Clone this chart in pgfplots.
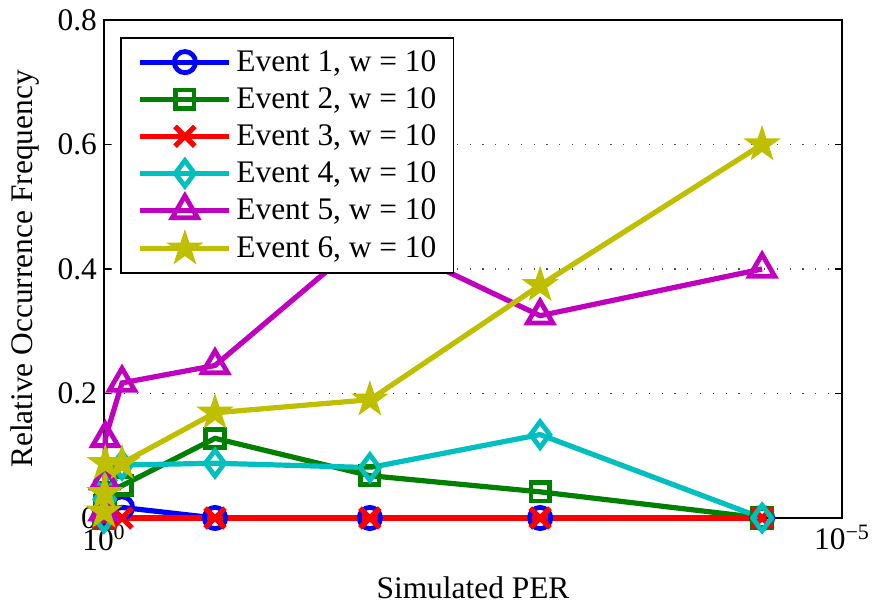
\documentclass[border=0pt]{standalone}
\usepackage{fontspec}
\setmainfont{Liberation Serif}
\usepackage{pgfplots}
\pgfplotsset{compat=1.18}
\definecolor{mblue}{rgb}{0,0,1}
\definecolor{mgreen}{rgb}{0,0.5,0}
\definecolor{mred}{rgb}{1,0,0}
\definecolor{mcyan}{rgb}{0,0.75,0.75}
\definecolor{mmag}{rgb}{0.75,0,0.75}
\definecolor{myel}{rgb}{0.75,0.75,0}
\pgfdeclareplotmark{pentagram}{%
  \pgfmathsetlengthmacro{\pin}{0.382*\pgfplotmarksize}%
  \pgfpathmoveto{\pgfpointpolar{90}{\pgfplotmarksize}}%
  \pgfpathlineto{\pgfpointpolar{126}{\pin}}%
  \pgfpathlineto{\pgfpointpolar{162}{\pgfplotmarksize}}%
  \pgfpathlineto{\pgfpointpolar{198}{\pin}}%
  \pgfpathlineto{\pgfpointpolar{234}{\pgfplotmarksize}}%
  \pgfpathlineto{\pgfpointpolar{270}{\pin}}%
  \pgfpathlineto{\pgfpointpolar{306}{\pgfplotmarksize}}%
  \pgfpathlineto{\pgfpointpolar{342}{\pin}}%
  \pgfpathlineto{\pgfpointpolar{18}{\pgfplotmarksize}}%
  \pgfpathlineto{\pgfpointpolar{54}{\pin}}%
  \pgfpathclose
  \pgfusepathqfillstroke}
\newcommand{\fs}{\fontsize{15.7}{19}\selectfont}
\begin{document}
\begin{tikzpicture}
\path[use as bounding box] (-52pt,-45pt) rectangle (384pt,259pt);
\begin{axis}[
  at={(0,0)}, anchor=south west, scale only axis,
  width=369pt, height=249pt,
  xmode=log, x dir=reverse, xmin=1e-5, xmax=1,
  xtick={1e-5,1}, xticklabels={10\textsuperscript{\char"2212 5}, 10\textsuperscript{0}},
  xminorticks=false,
  ymin=0, ymax=0.8, ytick={0,0.2,0.4,0.6,0.8}, yticklabels={0,0.2,0.4,0.6,0.8},
  tick align=inside, tick pos=both, major tick length=3.5pt,
  every tick/.style={black, line width=0.8pt},
  axis line style={line width=0.9pt},
  ymajorgrids,
  major grid style={black!70, line width=0.6pt, dash pattern=on 0.6pt off 5.8pt},
  tick label style={font=\fs},
  xlabel={Simulated PER},
  ylabel={Relative Occurrence Frequency},
  every axis x label/.style={at={(axis description cs:0.5,0)}, yshift=-35pt, anchor=center, font=\fs},
  every axis y label/.style={at={(axis description cs:0,0.5)}, xshift=-39.5pt, rotate=90, anchor=center, font=\fs},
  clip=false,
  legend image code/.code={\draw[mark repeat=2,mark phase=2,#1] plot coordinates {(0pt,0pt) (22.25pt,0pt) (44.5pt,0pt)};},
  legend style={at={(axis description cs:0,1)}, anchor=north west, xshift=8pt, yshift=-8.5pt,
    draw=black, line width=0.8pt, fill=white, font=\fs,
    inner xsep=8.5pt, inner ysep=4.2pt, row sep=2.6pt,
    nodes={inner xsep=0pt},
    /tikz/every odd column/.append style={column sep=2.2pt}},
  legend cell align=left,
]
\addplot[mblue, line width=2.6pt, mark=o, mark size=5.3pt, mark options={solid, line width=2.4pt}]
  coordinates {(1,0) (0.99,0.006) (0.98,0.012) (0.755,0.017) (0.177,0) (0.0158,0) (0.00111,0) (3.48e-5,0)};
\addlegendentry{Event 1, w = 10}
\addplot[mgreen, line width=2.6pt, mark=square, mark size=4.6pt, mark options={solid, line width=2.4pt}]
  coordinates {(1,0) (0.99,0.02) (0.98,0.04) (0.755,0.052) (0.177,0.128) (0.0158,0.068) (0.00111,0.042) (3.48e-5,0)};
\addlegendentry{Event 2, w = 10}
\addplot[mred, line width=2.6pt, mark=x, mark size=7pt, mark options={solid, line width=2.6pt}]
  coordinates {(1,0) (0.99,0) (0.98,0) (0.755,0) (0.177,0) (0.0158,0) (0.00111,0) (3.48e-5,0)};
\addlegendentry{Event 3, w = 10}
\addplot[mcyan, line width=2.6pt, mark=diamond, mark size=6.4pt, mark options={solid, line width=2.4pt}]
  coordinates {(1,0) (0.99,0.03) (0.98,0.06) (0.755,0.085) (0.177,0.088) (0.0158,0.081) (0.00111,0.134) (3.48e-5,0)};
\addlegendentry{Event 4, w = 10}
\addplot[mmag, line width=2.6pt, mark=triangle, mark size=7.3pt, mark options={solid, line width=2.4pt}]
  coordinates {(1,0.01) (0.99,0.06) (0.98,0.128) (0.755,0.217) (0.177,0.245) (0.0158,0.455) (0.00111,0.325) (3.48e-5,0.40)};
\addlegendentry{Event 5, w = 10}
\addplot[myel, line width=2.6pt, mark=pentagram, mark size=8.5pt, mark options={solid, fill=myel, line width=0.8pt}]
  coordinates {(1,0.01) (0.99,0.04) (0.98,0.088) (0.755,0.088) (0.177,0.169) (0.0158,0.19) (0.00111,0.374) (3.48e-5,0.60)};
\addlegendentry{Event 6, w = 10}
\end{axis}
\end{tikzpicture}
\end{document}
